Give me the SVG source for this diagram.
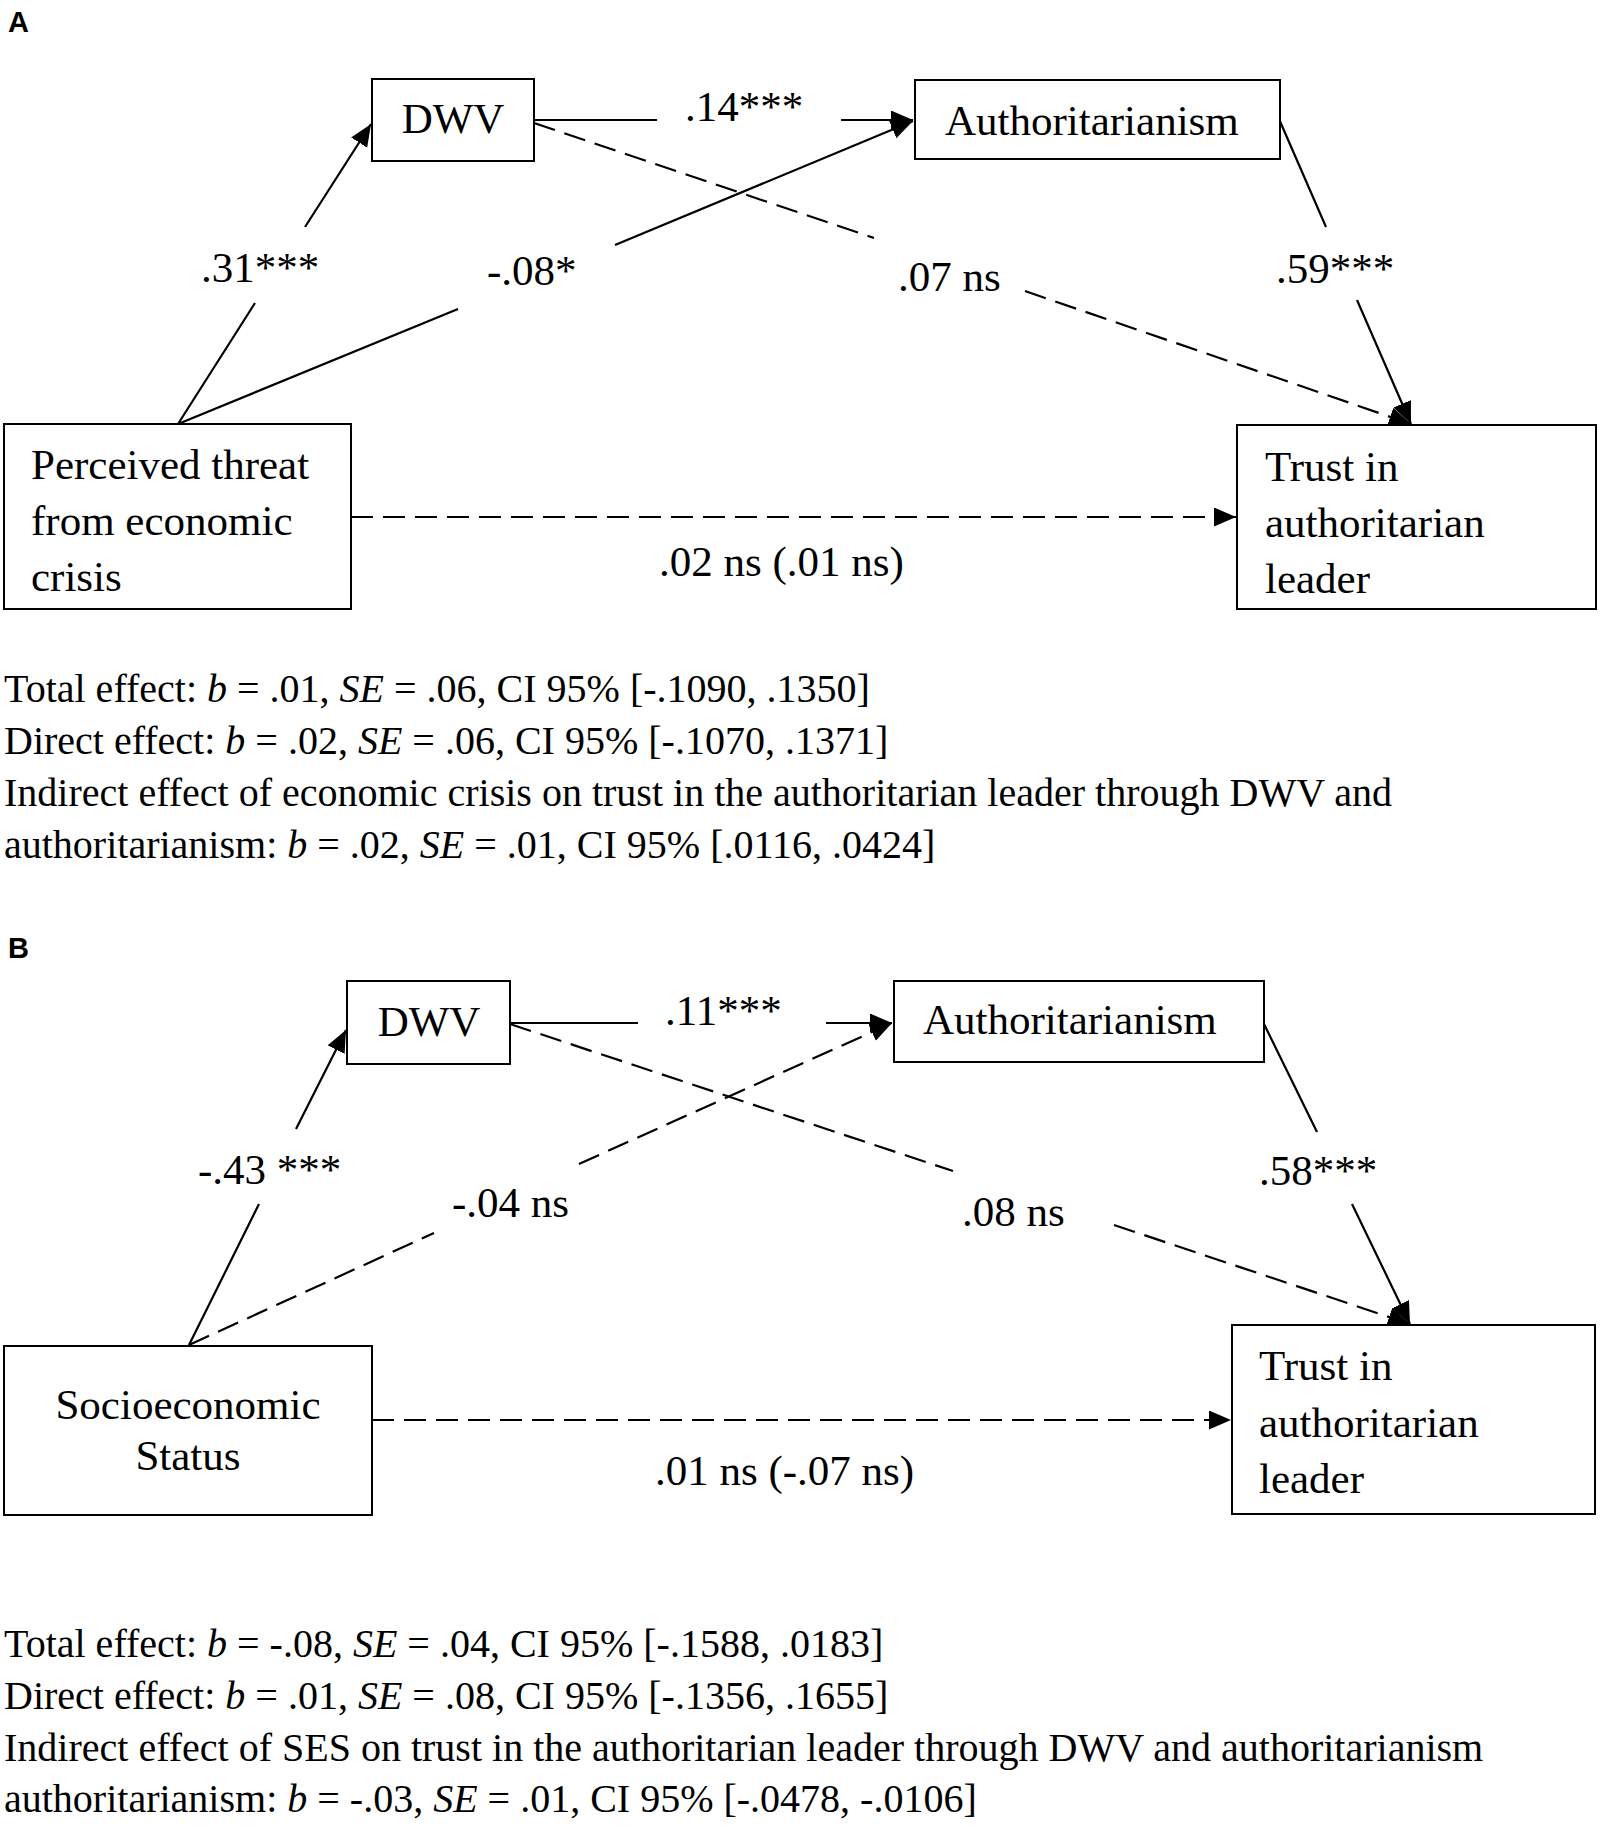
<svg xmlns="http://www.w3.org/2000/svg" width="1600" height="1831" viewBox="0 0 1600 1831">
<style>
.bg{fill:#fff}
.box{fill:#fff;stroke:#000;stroke-width:2}
.t{font-family:"Liberation Serif","Times New Roman",serif;font-size:43px;fill:#000}
.lbl{font-family:"Liberation Serif","Times New Roman",serif;font-size:43px;fill:#000}
.note{font-family:"Liberation Serif","Times New Roman",serif;font-size:40px;fill:#000}
.panel{font-family:"Liberation Sans",Arial,sans-serif;font-size:29px;font-weight:bold;fill:#000}
.solid{fill:none;stroke:#000;stroke-width:2.2;marker-end:url(#arr)}
.dash{fill:none;stroke:#000;stroke-width:2.2;stroke-dasharray:22 10;marker-end:url(#arr)}
.m{text-anchor:middle}
</style>
<defs>
<marker id="arr" markerUnits="userSpaceOnUse" markerWidth="24" markerHeight="20" refX="22" refY="9.5" orient="auto">
<path d="M0,0 L22,9.5 L0,19 z" fill="#000"/>
</marker>
</defs>
<rect class="bg" x="0" y="0" width="1600" height="1831"/>

<text class="panel" x="8" y="32">A</text>

<g id="connectors-a">
<path class="solid" d="M178,424 L255,303 M305,227 L371,124"/>
<path class="solid" d="M178,424 L458,309 M615,245 L913,121"/>
<path class="solid" d="M534,120 L657,120 M841,120 L913,120"/>
<path class="dash" d="M534,123 L874,238 M1025,291 L1411,424"/>
<path class="solid" d="M1279,119 L1326,227 M1357,300 L1411,424"/>
<path class="dash" d="M351,517 L1236,517"/>
</g>
<g id="labels-a">
<text class="lbl" x="201" y="282">.31***</text>
<text class="lbl" x="487" y="285">-.08*</text>
<text class="lbl" x="685" y="121">.14***</text>
<text class="lbl" x="898" y="291">.07 ns</text>
<text class="lbl" x="1276" y="283">.59***</text>
<text class="lbl" x="659" y="576">.02 ns (.01 ns)</text>
</g>

<g id="a-dwv">
<rect class="box" x="372" y="79" width="162" height="82"/>
<text class="t m" x="453" y="133">DWV</text>
</g>
<g id="a-auth">
<rect class="box" x="915" y="80" width="365" height="79"/>
<text class="t" x="945" y="135">Authoritarianism</text>
</g>
<g id="a-threat">
<rect class="box" x="4" y="424" width="347" height="185"/>
<text class="t" x="31" y="479">Perceived threat</text>
<text class="t" x="31" y="535">from economic</text>
<text class="t" x="31" y="591">crisis</text>
</g>
<g id="a-trust">
<rect class="box" x="1237" y="425" width="359" height="184"/>
<text class="t" x="1265" y="481">Trust in</text>
<text class="t" x="1265" y="537">authoritarian</text>
<text class="t" x="1265" y="593">leader</text>
</g>

<g id="notes-a">
<text class="note" x="4" y="702">Total effect: <tspan font-style="italic">b</tspan> = .01, <tspan font-style="italic">SE</tspan> = .06, CI 95% [-.1090, .1350]</text>
<text class="note" x="4" y="754">Direct effect: <tspan font-style="italic">b</tspan> = .02, <tspan font-style="italic">SE</tspan> = .06, CI 95% [-.1070, .1371]</text>
<text class="note" x="4" y="806">Indirect effect of economic crisis on trust in the authoritarian leader through DWV and</text>
<text class="note" x="4" y="858">authoritarianism: <tspan font-style="italic">b</tspan> = .02, <tspan font-style="italic">SE</tspan> = .01, CI 95% [.0116, .0424]</text>
</g>

<text class="panel" x="8" y="958">B</text>

<g id="connectors-b">
<path class="solid" d="M189,1345 L259,1204 M296,1129 L346,1030"/>
<path class="dash" d="M189,1345 L434,1233 M579,1164 L892,1023"/>
<path class="solid" d="M510,1023 L638,1023 M826,1023 L892,1023"/>
<path class="dash" d="M510,1024 L953,1171 M1114,1225 L1410,1324"/>
<path class="solid" d="M1263,1022 L1317,1132 M1352,1204 L1410,1324"/>
<path class="dash" d="M372,1420 L1231,1420"/>
</g>
<g id="labels-b">
<text class="lbl" x="198" y="1184">-.43 ***</text>
<text class="lbl" x="452" y="1217">-.04 ns</text>
<text class="lbl" x="665" y="1025">.11***</text>
<text class="lbl" x="962" y="1226">.08 ns</text>
<text class="lbl" x="1259" y="1185">.58***</text>
<text class="lbl" x="655" y="1485">.01 ns (-.07 ns)</text>
</g>

<g id="b-dwv">
<rect class="box" x="347" y="981" width="163" height="83"/>
<text class="t m" x="429" y="1036">DWV</text>
</g>
<g id="b-auth">
<rect class="box" x="894" y="981" width="370" height="81"/>
<text class="t" x="923" y="1034">Authoritarianism</text>
</g>
<g id="b-ses">
<rect class="box" x="4" y="1346" width="368" height="169"/>
<text class="t m" x="188" y="1419">Socioeconomic</text>
<text class="t m" x="188" y="1470">Status</text>
</g>
<g id="b-trust">
<rect class="box" x="1232" y="1325" width="363" height="189"/>
<text class="t" x="1259" y="1380">Trust in</text>
<text class="t" x="1259" y="1437">authoritarian</text>
<text class="t" x="1259" y="1493">leader</text>
</g>

<g id="notes-b">
<text class="note" x="4" y="1657">Total effect: <tspan font-style="italic">b</tspan> = -.08, <tspan font-style="italic">SE</tspan> = .04, CI 95% [-.1588, .0183]</text>
<text class="note" x="4" y="1709">Direct effect: <tspan font-style="italic">b</tspan> = .01, <tspan font-style="italic">SE</tspan> = .08, CI 95% [-.1356, .1655]</text>
<text class="note" x="4" y="1761">Indirect effect of SES on trust in the authoritarian leader through DWV and authoritarianism</text>
<text class="note" x="4" y="1812">authoritarianism: <tspan font-style="italic">b</tspan> = -.03, <tspan font-style="italic">SE</tspan> = .01, CI 95% [-.0478, -.0106]</text>
</g>
</svg>
